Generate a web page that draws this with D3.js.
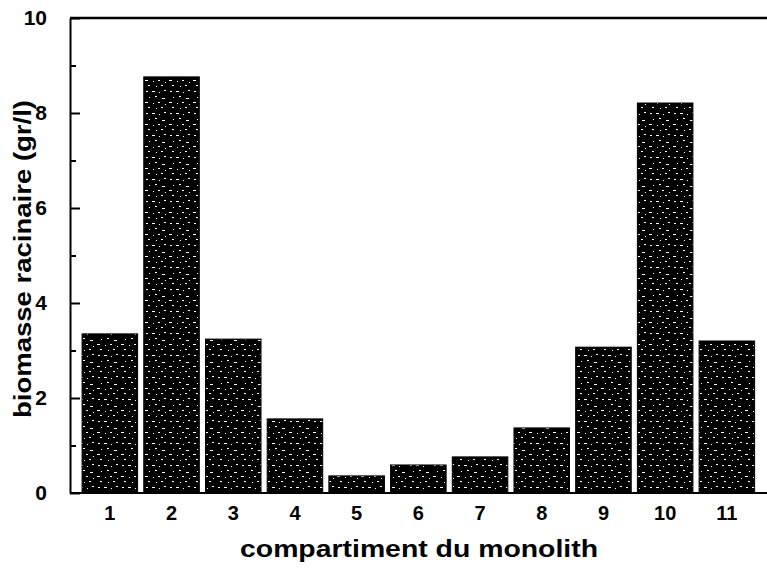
<!DOCTYPE html>
<html>
<head>
<meta charset="utf-8">
<script src="https://cdn.jsdelivr.net/npm/d3@7/dist/d3.min.js"></script>
<style>
html,body{margin:0;padding:0;background:#fff;}
svg{display:block;}
text{font-family:"Liberation Sans",Arial,sans-serif;font-weight:bold;fill:#000;}
</style>
</head>
<body>
<svg id="chart" width="767" height="573"></svg>
<script>
const categories = ["1","2","3","4","5","6","7","8","9","10","11"];
const values = [3.35, 8.76, 3.24, 1.56, 0.36, 0.59, 0.76, 1.37, 3.07, 8.21, 3.20];
const yMajorTicks = [0, 2, 4, 6, 8, 10];
const yMinorTicks = [1, 3, 5, 7, 9];
const xTitle = "compartiment du monolith";
const yTitle = "biomasse racinaire (gr/l)";

const svg = d3.select("#chart");
const W = 767, H = 573;
const m = {left: 70, right: 0, top: 18, bottom: 80};

const x = d3.scaleBand().domain(categories).range([79, 757.7]).paddingInner(0.1).paddingOuter(0.05);
const y = d3.scaleLinear().domain([0, 10]).range([H - m.bottom, m.top]);

// speckle pattern for bars (scan texture)
const defs = svg.append("defs");
const pat = defs.append("pattern").attr("id", "speck").attr("patternUnits", "userSpaceOnUse")
  .attr("width", 24).attr("height", 22);
pat.append("rect").attr("width", 24).attr("height", 22).attr("fill", "#000");
const dots = [[2,3,2,1],[8,3,3,1],[15,4,1,1],[20,2,2,1],[5,9,1,1],[11,8,2,1],[18,10,3,1],[1,14,3,1],[9,15,1,1],[14,14,2,1],[21,16,1,1],[4,19,2,1],[12,20,1,1],[17,19,2,1]];
dots.forEach(d => pat.append("rect").attr("x", d[0]).attr("y", d[1]).attr("width", d[2]).attr("height", d[3]).attr("fill", "#fff"));

// bars
svg.append("g").selectAll("rect").data(values).join("rect")
  .attr("x", (d, i) => x(categories[i]))
  .attr("width", x.bandwidth())
  .attr("y", d => y(d))
  .attr("height", d => y(0) - y(d))
  .attr("fill", "url(#speck)")
  .attr("stroke", "#000").attr("stroke-width", 1);

// frame lines: top, bottom
svg.append("line").attr("x1", m.left).attr("x2", W).attr("y1", y(10)).attr("y2", y(10)).attr("stroke", "#000").attr("stroke-width", 2.5);
svg.append("line").attr("x1", m.left).attr("x2", W).attr("y1", y(0)).attr("y2", y(0)).attr("stroke", "#000").attr("stroke-width", 2);

// y axis
const yAxis = d3.axisLeft(y).tickValues(yMajorTicks).tickSizeInner(-10).tickSizeOuter(0).tickPadding(23).tickFormat(d3.format("d"));
const gy = svg.append("g").attr("transform", `translate(${m.left},0)`).call(yAxis);
gy.select(".domain").attr("stroke", "#000").attr("stroke-width", 2);
gy.selectAll(".tick line").attr("stroke", "#000").attr("stroke-width", 2);
gy.selectAll(".tick text").attr("font-size", 21).attr("font-family", "Liberation Sans, Arial, sans-serif").attr("font-weight", "bold").attr("fill", "#000");
const yMinor = d3.axisLeft(y).tickValues(yMinorTicks).tickSize(-6).tickFormat("");
const gym = svg.append("g").attr("transform", `translate(${m.left},0)`).call(yMinor);
gym.select(".domain").remove();
gym.selectAll(".tick line").attr("stroke", "#000").attr("stroke-width", 2);

// x axis
const xAxis = d3.axisBottom(x).tickSize(0).tickPadding(13);
const gx = svg.append("g").attr("transform", `translate(0,${y(0)})`).call(xAxis);
gx.select(".domain").remove();
gx.selectAll(".tick text").attr("font-size", 20).attr("font-family", "Liberation Sans, Arial, sans-serif").attr("font-weight", "bold").attr("fill", "#000");

// titles
svg.append("text").attr("x", 240).attr("y", 557).attr("font-size", 23)
  .attr("textLength", 358).attr("lengthAdjust", "spacingAndGlyphs").text(xTitle);
svg.append("text").attr("transform", "translate(31,418) rotate(-90)").attr("font-size", 23)
  .attr("textLength", 318).attr("lengthAdjust", "spacingAndGlyphs").text(yTitle);
</script>
</body>
</html>
